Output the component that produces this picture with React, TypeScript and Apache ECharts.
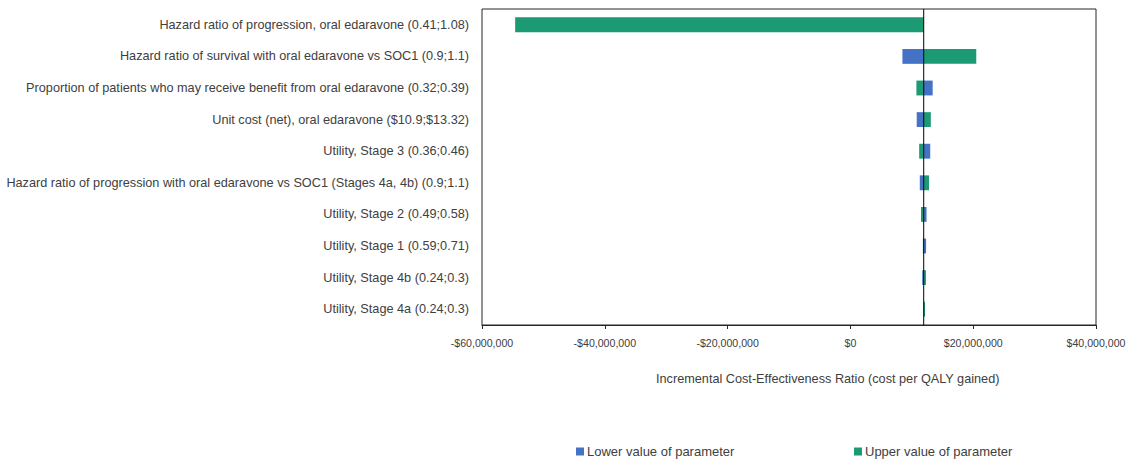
import React, { useEffect, useRef } from "react";
import * as echarts from "echarts";

const categories = [
  "Hazard ratio of progression, oral edaravone (0.41;1.08)",
  "Hazard ratio of survival with oral edaravone vs SOC1 (0.9;1.1)",
  "Proportion of patients who may receive benefit from oral edaravone (0.32;0.39)",
  "Unit cost (net), oral edaravone ($10.9;$13.32)",
  "Utility, Stage 3 (0.36;0.46)",
  "Hazard ratio of progression with oral edaravone vs SOC1 (Stages 4a, 4b) (0.9;1.1)",
  "Utility, Stage 2 (0.49;0.58)",
  "Utility, Stage 1 (0.59;0.71)",
  "Utility, Stage 4b (0.24;0.3)",
  "Utility, Stage 4a (0.24;0.3)",
];

const baseICER = 11940000;
const lowerValues = [11940000, 8470000, 13400000, 10800000, 13000000, 11300000, 12400000, 12330000, 11700000, 11940000];
const upperValues = [-54600000, 20500000, 10750000, 13100000, 11200000, 12800000, 11500000, 11800000, 12300000, 12150000];

const xTicks = { min: -60000000, max: 40000000, interval: 20000000 };

const BLUE = "#4472C4";
const GREEN = "#1B9A74";
const FONT = "Liberation Sans";
const TEXT = "#404040";

function fmtMoney(v: number): string {
  const s = "$" + Math.abs(v).toLocaleString("en-US");
  return v < 0 ? "-" + s : s;
}

function makeBarSeries(name: string, values: number[], color: string) {
  return {
    name,
    type: "custom",
    itemStyle: { color },
    data: values.map((v, i) => [v, i]),
    encode: { x: 0, y: 1 },
    renderItem: (params: any, api: any) => {
      const v = api.value(0);
      const cat = api.value(1);
      const p0 = api.coord([baseICER, cat]);
      const p1 = api.coord([v, cat]);
      const h = api.size([0, 1])[1] * 0.47;
      return {
        type: "rect",
        shape: {
          x: Math.min(p0[0], p1[0]),
          y: p0[1] - h / 2,
          width: Math.abs(p1[0] - p0[0]),
          height: h,
        },
        style: { fill: color },
      };
    },
  };
}

export default function App() {
  const ref = useRef<HTMLDivElement>(null);
  useEffect(() => {
    if (!ref.current) return;
    const chart = echarts.init(ref.current, undefined, { renderer: "svg" });
    chart.setOption({
      animation: false,
      grid: {
        left: 482,
        right: 45,
        top: 9,
        bottom: 136,
        show: true,
        borderColor: "#262626",
        borderWidth: 1,
        backgroundColor: "transparent",
      },
      xAxis: {
        type: "value",
        min: xTicks.min,
        max: xTicks.max,
        interval: xTicks.interval,
        splitLine: { show: false },
        axisLine: { show: true, lineStyle: { color: "#262626", width: 1 } },
        axisTick: { show: true, length: 4, lineStyle: { color: "#262626" } },
        axisLabel: {
          formatter: (v: number) => fmtMoney(v),
          fontFamily: FONT,
          fontSize: 10.6,
          color: TEXT,
          margin: 12,
        },
      },
      yAxis: {
        type: "category",
        data: categories,
        inverse: true,
        axisLine: { show: false },
        axisTick: { show: false },
        splitLine: { show: false },
        axisLabel: {
          fontFamily: FONT,
          fontSize: 12.7,
          color: TEXT,
          margin: 13,
        },
      },
      legend: [
        {
          data: ["Lower value of parameter"],
          left: 576,
          top: 445,
          padding: 0,
          itemWidth: 8,
          itemHeight: 8,
          icon: "rect",
          textStyle: { fontFamily: FONT, fontSize: 13, color: TEXT, padding: [0, 0, 0, -2] },
        },
        {
          data: ["Upper value of parameter"],
          left: 854,
          top: 445,
          padding: 0,
          itemWidth: 8,
          itemHeight: 8,
          icon: "rect",
          textStyle: { fontFamily: FONT, fontSize: 13, color: TEXT, padding: [0, 0, 0, -2] },
        },
      ],
      graphic: [
        {
          type: "text",
          left: 656,
          top: 372,
          style: {
            text: "Incremental Cost-Effectiveness Ratio (cost per QALY gained)",
            fontFamily: FONT,
            fontSize: 12.7,
            fill: TEXT,
          },
        },
      ],
      series: [
        makeBarSeries("Lower value of parameter", lowerValues, BLUE),
        makeBarSeries("Upper value of parameter", upperValues, GREEN),
        {
          name: "base",
          type: "custom",
          data: [[baseICER, 0]],
          encode: { x: 0, y: 1 },
          silent: true,
          renderItem: (params: any, api: any) => {
            const cs = params.coordSys;
            const p = api.coord([api.value(0), 0]);
            return {
              type: "line",
              shape: { x1: p[0], y1: cs.y, x2: p[0], y2: cs.y + cs.height },
              style: { stroke: "#000000", lineWidth: 1 },
            };
          },
        },
      ],
    });
    return () => chart.dispose();
  }, []);
  return (
    <div
      ref={ref}
      style={{ position: "fixed", left: 0, top: 0, width: 1141, height: 461, background: "#fff" }}
    />
  );
}
